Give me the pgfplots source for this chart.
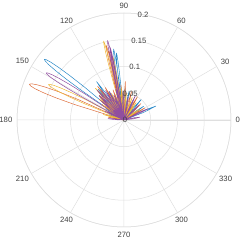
\documentclass[border=0pt]{standalone}
\usepackage{pgfplots}
\pgfplotsset{compat=1.18}
\usepgfplotslibrary{polar}
\usepackage{fontspec}
\setmainfont{Liberation Sans}
\definecolor{mblue0}{rgb}{0,0.447,0.741}
\definecolor{morange0}{rgb}{0.85,0.325,0.098}
\definecolor{myellow0}{rgb}{0.929,0.694,0.125}
\definecolor{mpurple0}{rgb}{0.494,0.184,0.556}
\colorlet{mblue}{mblue0!85!white}
\colorlet{morange}{morange0!85!white}
\colorlet{myellow}{myellow0!90!white}
\colorlet{mpurple}{mpurple0!85!white}
\definecolor{gridc}{rgb}{0.875,0.875,0.875}
\definecolor{labc}{rgb}{0.25,0.25,0.25}
\begin{document}
\begin{tikzpicture}
\begin{polaraxis}[
  scale only axis, width=214pt, height=214pt,
  ymin=0, ymax=0.2, ytick={0,0.05,0.1,0.15,0.2},
  xtick={0,30,...,330},
  xticklabel=\empty, yticklabel=\empty,
  grid=major, major grid style={draw=gridc, line width=0.5pt},
  axis line style={draw=gridc, line width=0.5pt},
  major tick length=0pt,
  clip=false,
  every axis plot/.append style={no marks, line width=0.5pt, line join=round},
]
\addplot[color=mblue] coordinates {
(0,0)
(139.7,0)(140.2,0.0952)(140.7,0.1322)(141.2,0.1573)(141.7,0.1741)(142.2,0.1838)(142.7,0.187)(143.2,0.1838)(143.7,0.1741)(144.2,0.1573)(144.7,0.1322)(145.2,0.0952)(145.7,0)
(96.4,0)(96.73,0.0347)(97.07,0.067)(97.4,0.0947)(97.73,0.116)(98.07,0.1294)(98.4,0.134)(98.73,0.1294)(99.07,0.116)(99.4,0.0947)(99.73,0.067)(100.07,0.0347)(100.4,0)
(94.5,0)(94.83,0.0326)(95.17,0.063)(95.5,0.0891)(95.83,0.1091)(96.17,0.1217)(96.5,0.126)(96.83,0.1217)(97.17,0.1091)(97.5,0.0891)(97.83,0.063)(98.17,0.0326)(98.5,0)
(123.5,0.0528)(125.5,0.088)(127.5,0.0528)(0,0)
(128,0.045)(130,0.075)(132,0.045)(0,0)
(116,0.036)(118,0.06)(120,0.036)(0,0)
(21.1,0.039)(23.6,0.065)(26.1,0.039)(0,0)
(33,0.027)(35,0.045)(37,0.027)(0,0)
(48,0.03)(50,0.05)(52,0.03)(0,0)
(63,0.024)(65,0.04)(67,0.024)(0,0)
(78,0.033)(80,0.055)(82,0.033)(0,0)
(86,0.036)(88,0.06)(90,0.036)(0,0)
(138,0.03)(140,0.05)(142,0.03)(0,0)
(158,0.018)(160,0.03)(162,0.018)(0,0)
(108,0.027)(110,0.045)(112,0.027)(0,0)
(133,0.039)(135,0.065)(137,0.039)(0,0)
(146,0.024)(148,0.04)(150,0.024)(0,0)
(98,0.03)(100,0.05)(102,0.03)(0,0)
};
\addplot[color=morange] coordinates {
(0,0)
(155.3,0)(155.97,0.0962)(156.63,0.1336)(157.3,0.1589)(157.97,0.176)(158.63,0.1858)(159.3,0.189)(159.97,0.1858)(160.63,0.176)(161.3,0.1589)(161.97,0.1336)(162.63,0.0962)(163.3,0)
(101.5,0)(101.83,0.0373)(102.17,0.072)(102.5,0.1018)(102.83,0.1247)(103.17,0.1391)(103.5,0.144)(103.83,0.1391)(104.17,0.1247)(104.5,0.1018)(104.83,0.072)(105.17,0.0373)(105.5,0)
(100.3,0)(100.63,0.0342)(100.97,0.066)(101.3,0.0933)(101.63,0.1143)(101.97,0.1275)(102.3,0.132)(102.63,0.1275)(102.97,0.1143)(103.3,0.0933)(103.63,0.066)(103.97,0.0342)(104.3,0)
(86.5,0.0432)(88,0.072)(89.5,0.0432)(0,0)
(118,0.042)(120,0.07)(122,0.042)(0,0)
(133,0.039)(135,0.065)(137,0.039)(0,0)
(143,0.03)(145,0.05)(147,0.03)(0,0)
(42,0.0264)(44,0.044)(46,0.0264)(0,0)
(28,0.027)(30,0.045)(32,0.027)(0,0)
(58,0.03)(60,0.05)(62,0.03)(0,0)
(73,0.033)(75,0.055)(77,0.033)(0,0)
(168,0.018)(170,0.03)(172,0.018)(0,0)
(108,0.036)(110,0.06)(112,0.036)(0,0)
(126,0.048)(128,0.08)(130,0.048)(0,0)
(138,0.036)(140,0.06)(142,0.036)(0,0)
(93,0.039)(95,0.065)(97,0.039)(0,0)
};
\addplot[color=myellow] coordinates {
(0,0)
(151.4,0)(151.97,0.0794)(152.53,0.1103)(153.1,0.1312)(153.67,0.1452)(154.23,0.1533)(154.8,0.156)(155.37,0.1533)(155.93,0.1452)(156.5,0.1312)(157.07,0.1103)(157.63,0.0794)(158.2,0)
(102.5,0)(102.83,0.0395)(103.17,0.0763)(103.5,0.1078)(103.83,0.1321)(104.17,0.1473)(104.5,0.1525)(104.83,0.1473)(105.17,0.1321)(105.5,0.1078)(105.83,0.0763)(106.17,0.0395)(106.5,0)
(98,0)(98.33,0.0311)(98.67,0.06)(99,0.0848)(99.33,0.1039)(99.67,0.1159)(100,0.12)(100.33,0.1159)(100.67,0.1039)(101,0.0848)(101.33,0.06)(101.67,0.0311)(102,0)
(125,0.042)(127,0.07)(129,0.042)(0,0)
(136,0.036)(138,0.06)(140,0.036)(0,0)
(113,0.033)(115,0.055)(117,0.033)(0,0)
(83,0.03)(85,0.05)(87,0.03)(0,0)
(53,0.024)(55,0.04)(57,0.024)(0,0)
(33,0.021)(35,0.035)(37,0.021)(0,0)
(163,0.024)(165,0.04)(167,0.024)(0,0)
(68,0.027)(70,0.045)(72,0.027)(0,0)
(130,0.048)(132,0.08)(134,0.048)(0,0)
(118,0.03)(120,0.05)(122,0.03)(0,0)
(143,0.03)(145,0.05)(147,0.03)(0,0)
(93,0.036)(95,0.06)(97,0.036)(0,0)
};
\addplot[color=mpurple] coordinates {
(0,0)
(145.8,0)(146.3,0.0865)(146.8,0.1202)(147.3,0.143)(147.8,0.1583)(148.3,0.1671)(148.8,0.17)(149.3,0.1671)(149.8,0.1583)(150.3,0.143)(150.8,0.1202)(151.3,0.0865)(151.8,0)
(99.7,0)(100.03,0.0394)(100.37,0.076)(100.7,0.1075)(101.03,0.1316)(101.37,0.1468)(101.7,0.152)(102.03,0.1468)(102.37,0.1316)(102.7,0.1075)(103.03,0.076)(103.37,0.0394)(103.7,0)
(98.9,0)(99.23,0.036)(99.57,0.0695)(99.9,0.0983)(100.23,0.1204)(100.57,0.1343)(100.9,0.139)(101.23,0.1343)(101.57,0.1204)(101.9,0.0983)(102.23,0.0695)(102.57,0.036)(102.9,0)
(130,0.045)(132,0.075)(134,0.045)(0,0)
(120,0.039)(122,0.065)(124,0.039)(0,0)
(138,0.033)(140,0.055)(142,0.033)(0,0)
(110,0.03)(112,0.05)(114,0.03)(0,0)
(90,0.033)(92,0.055)(94,0.033)(0,0)
(78,0.027)(80,0.045)(82,0.027)(0,0)
(63,0.03)(65,0.05)(67,0.03)(0,0)
(43,0.024)(45,0.04)(47,0.024)(0,0)
(23,0.03)(25,0.05)(27,0.03)(0,0)
(7,0.018)(10,0.03)(13,0.018)(0,0)
(172,0.018)(175,0.03)(178,0.018)(0,0)
(153,0.024)(155,0.04)(157,0.024)(0,0)
(125,0.042)(127,0.07)(129,0.042)(0,0)
(134,0.039)(136,0.065)(138,0.039)(0,0)
(115,0.036)(117,0.06)(119,0.036)(0,0)
(103,0.036)(105,0.06)(107,0.036)(0,0)
};
\coordinate (O) at (axis cs:0,0);
\begin{scope}[every node/.style={inner sep=0pt, text=labc, font=\fontsize{7.7}{9}\selectfont}]
\node[anchor=180] at (axis cs:0,0.2084) {0};
\node[anchor=210] at (axis cs:30,0.2084) {30};
\node[anchor=240] at (axis cs:60,0.2084) {60};
\node[anchor=270] at (axis cs:90,0.2084) {90};
\node[anchor=300] at (axis cs:120,0.2084) {120};
\node[anchor=330] at (axis cs:150,0.2084) {150};
\node[anchor=0] at (axis cs:180,0.2084) {180};
\node[anchor=30] at (axis cs:210,0.2084) {210};
\node[anchor=60] at (axis cs:240,0.2084) {240};
\node[anchor=90] at (axis cs:270,0.2084) {270};
\node[anchor=120] at (axis cs:300,0.2084) {300};
\node[anchor=150] at (axis cs:330,0.2084) {330};
\node[xshift=1pt] at (axis cs:80,0) {0};
\node[xshift=1.5pt] at (axis cs:80,0.05) {0.05};
\node[xshift=1.5pt] at (axis cs:80,0.1) {0.1};
\node[xshift=1pt] at (axis cs:80,0.15) {0.15};
\node[xshift=0.5pt] at (axis cs:80,0.2) {0.2};
\end{scope}
\end{polaraxis}
\pgfresetboundingbox
\path ([shift={(-124pt,-120pt)}]O) rectangle ([shift={(117pt,120pt)}]O);
\end{tikzpicture}
\end{document}
